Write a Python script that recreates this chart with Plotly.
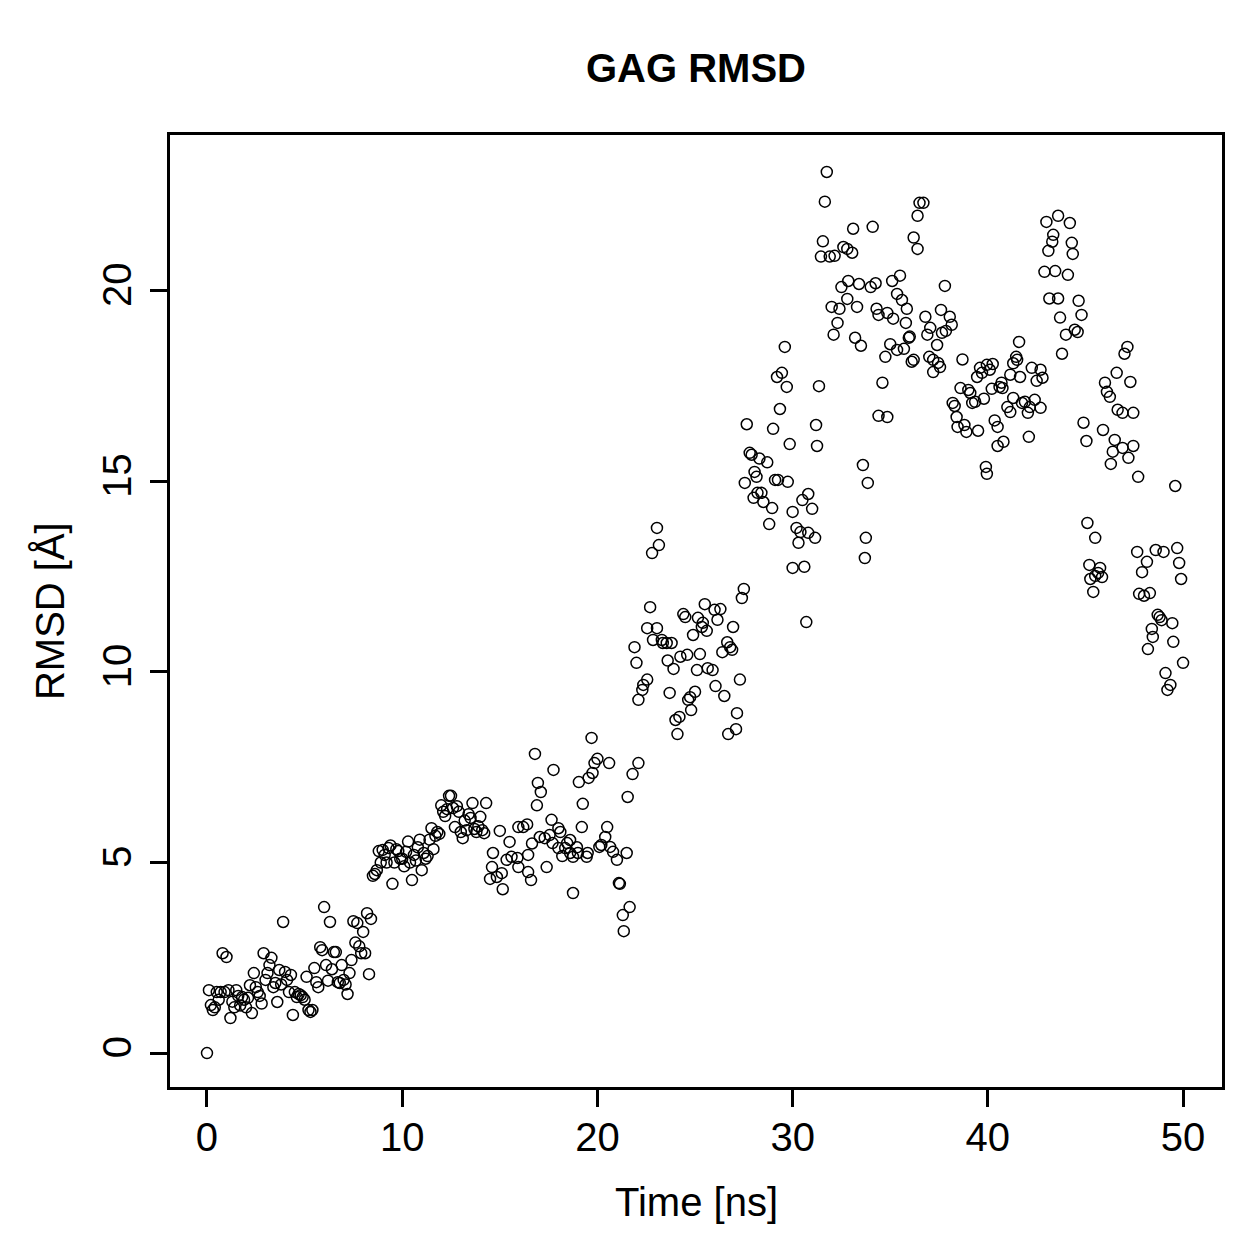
import plotly.graph_objects as go

# ---- data (time in ns, RMSD in Angstrom) ----
time_00_10 = [0.0, 0.1, 0.2, 0.3, 0.4, 0.5, 0.6, 0.7, 0.8, 0.9,
              1.0, 1.1, 1.2, 1.3, 1.4, 1.5, 1.6, 1.7, 1.8, 1.9,
              2.0, 2.1, 2.2, 2.3, 2.4, 2.5, 2.6, 2.7, 2.8, 2.9,
              3.0, 3.1, 3.2, 3.3, 3.4, 3.5, 3.6, 3.7, 3.8, 3.9,
              4.0, 4.1, 4.2, 4.3, 4.4, 4.5, 4.6, 4.7, 4.8, 4.9,
              5.0, 5.1, 5.2, 5.3, 5.4, 5.5, 5.6, 5.7, 5.8, 5.9,
              6.0, 6.1, 6.2, 6.3, 6.4, 6.5, 6.6, 6.7, 6.8, 6.9,
              7.0, 7.1, 7.2, 7.3, 7.4, 7.5, 7.6, 7.7, 7.8, 7.9,
              8.0, 8.1, 8.2, 8.3, 8.4, 8.5, 8.6, 8.7, 8.8, 8.9,
              9.0, 9.1, 9.2, 9.3, 9.4, 9.5, 9.6, 9.7, 9.8, 9.9]
rmsd_00_10 = [0.0, 1.65, 1.26, 1.13, 1.2, 1.6, 1.4, 1.6, 2.62, 1.6,
              2.52, 1.65, 0.92, 1.35, 1.2, 1.65, 1.5, 1.25, 1.47, 1.4,
              1.2, 1.45, 1.78, 1.05, 2.1, 1.73, 1.6, 1.5, 1.3, 2.62,
              1.92, 2.1, 2.31, 2.5, 1.73, 1.84, 1.34, 2.18, 1.8, 3.44,
              2.13, 1.92, 1.6, 2.05, 1.0, 1.6, 1.47, 1.55, 1.52, 1.47,
              1.4, 2.0, 1.13, 1.08, 1.13, 2.23, 1.86, 1.73, 2.78, 2.7,
              3.83, 2.31, 1.9, 3.44, 2.2, 2.65, 2.65, 1.86, 1.84, 2.31,
              1.92, 1.8, 1.55, 2.1, 2.44, 3.46, 2.9, 3.41, 2.8, 2.62,
              3.18, 2.62, 3.67, 2.07, 3.52, 4.65, 4.7, 4.8, 5.3, 5.0,
              5.33, 5.2, 5.0, 5.38, 5.45, 4.44, 5.0, 5.35, 5.3, 5.1]

time_10_20 = [10.0, 10.1, 10.2, 10.3, 10.4, 10.5, 10.6, 10.7, 10.8, 10.9,
              11.0, 11.1, 11.2, 11.3, 11.4, 11.5, 11.6, 11.7, 11.8, 11.9,
              12.0, 12.1, 12.2, 12.3, 12.4, 12.5, 12.6, 12.7, 12.8, 12.9,
              13.0, 13.1, 13.2, 13.3, 13.4, 13.5, 13.6, 13.7, 13.8, 13.9,
              14.0, 14.1, 14.2, 14.3, 14.5, 14.6, 14.65, 14.85, 15.0, 15.1,
              15.15, 15.35, 15.5, 15.6, 15.9, 15.95, 15.95, 16.2, 16.4, 16.45,
              16.45, 16.6, 16.65, 16.8, 16.9, 16.95, 17.05, 17.1, 17.3, 17.4,
              17.55, 17.65, 17.7, 17.75, 18.0, 18.0, 18.1, 18.2, 18.35, 18.45,
              18.6, 18.6, 18.75, 18.75, 18.95, 19.0, 19.05, 19.2, 19.25, 19.45,
              19.5, 19.55, 19.7, 19.75, 19.85]
rmsd_10_20 = [5.1, 4.9, 5.28, 5.55, 5.0, 4.54, 5.2, 5.05, 5.4, 5.6,
              4.8, 5.25, 5.1, 5.17, 5.6, 5.9, 5.35, 5.7, 5.8, 5.75,
              6.5, 6.33, 6.22, 6.4, 6.75, 6.75, 6.43, 5.93, 6.48, 6.33,
              5.8, 5.64, 6.1, 5.85, 6.27, 6.17, 6.56, 5.88, 5.8, 5.95,
              6.2, 5.85, 5.77, 6.56, 4.57, 4.88, 5.25, 4.62, 5.83, 4.72,
              4.3, 5.07, 5.54, 5.15, 5.12, 5.93, 4.88, 5.93, 6.0, 5.2,
              4.75, 4.54, 5.5, 7.85, 6.5, 7.09, 5.67, 6.85, 5.64, 4.88,
              5.72, 6.12, 5.51, 7.43, 5.9, 5.38, 5.8, 5.17, 5.38, 5.51,
              5.59, 5.25, 5.15, 4.2, 5.4, 5.25, 7.11, 5.93, 6.54, 5.15,
              5.25, 7.22, 8.27, 7.35, 7.61]

time_20_30 = [20.0, 20.1, 20.2, 20.4, 20.5, 20.6, 20.65, 20.8, 21.0, 21.1,
              21.15, 21.3, 21.35, 21.5, 21.55, 21.65, 21.8, 21.9, 22.0, 22.1,
              22.1, 22.3, 22.35, 22.55, 22.55, 22.7, 22.8, 22.85, 23.05, 23.05,
              23.15, 23.3, 23.35, 23.55, 23.6, 23.7, 23.8, 23.9, 24.0, 24.1,
              24.2, 24.25, 24.4, 24.5, 24.6, 24.65, 24.75, 24.8, 24.9, 25.0,
              25.1, 25.15, 25.25, 25.35, 25.4, 25.5, 25.6, 25.65, 25.9, 26.0,
              26.05, 26.15, 26.3, 26.4, 26.5, 26.65, 26.7, 26.8, 26.9, 26.95,
              27.1, 27.15, 27.3, 27.4, 27.5, 27.55, 27.65, 27.8, 27.9, 28.0,
              28.05, 28.15, 28.2, 28.3, 28.4, 28.5, 28.7, 28.8, 28.95, 29.0,
              29.1, 29.2, 29.25, 29.35, 29.45, 29.6, 29.7, 29.75, 29.85]
rmsd_20_30 = [7.72, 5.41, 5.46, 5.67, 5.93, 7.61, 5.41, 5.28, 5.07, 4.46,
              4.44, 3.62, 3.2, 5.25, 6.72, 3.83, 7.32, 10.65, 10.24, 7.61,
              9.27, 9.53, 9.66, 9.8, 11.15, 11.7, 13.12, 10.84, 13.78, 11.15,
              13.33, 10.84, 10.76, 10.76, 10.3, 9.45, 10.76, 10.08, 8.74, 8.37,
              8.82, 10.4, 11.52, 11.44, 10.45, 9.27, 9.34, 9.0, 10.97, 9.48,
              10.05, 11.42, 10.47, 11.18, 11.29, 11.78, 11.08, 10.1, 10.05, 11.63,
              9.63, 11.37, 11.65, 10.52, 9.37, 10.78, 8.37, 10.65, 10.58, 11.18,
              8.5, 8.92, 9.8, 11.94, 12.18, 14.96, 16.5, 15.75, 15.7, 14.57,
              15.25, 15.12, 14.7, 15.6, 14.7, 14.46, 15.5, 13.88, 14.3, 16.38,
              15.04, 17.74, 15.04, 16.9, 17.85, 18.53, 17.48, 14.99, 15.98]

time_30_40 = [30.0, 30.0, 30.2, 30.3, 30.4, 30.5, 30.6, 30.7, 30.8, 30.8,
              31.0, 31.15, 31.2, 31.25, 31.35, 31.45, 31.55, 31.65, 31.75, 31.9,
              32.0, 32.1, 32.15, 32.3, 32.4, 32.5, 32.6, 32.8, 32.8, 32.85,
              33.05, 33.1, 33.2, 33.3, 33.4, 33.5, 33.6, 33.7, 33.75, 33.85,
              34.0, 34.1, 34.25, 34.3, 34.4, 34.4, 34.6, 34.75, 34.85, 34.85,
              35.0, 35.1, 35.15, 35.35, 35.35, 35.5, 35.6, 35.7, 35.8, 35.85,
              35.95, 36.0, 36.1, 36.2, 36.2, 36.4, 36.4, 36.5, 36.7, 36.8,
              36.9, 37.0, 37.05, 37.2, 37.2, 37.4, 37.45, 37.55, 37.6, 37.65,
              37.8, 37.85, 38.05, 38.15, 38.2, 38.3, 38.4, 38.45, 38.6, 38.7,
              38.8, 38.9, 39.0, 39.1, 39.2, 39.35, 39.45, 39.5, 39.6, 39.7,
              39.8, 39.9, 39.95, 39.95]
rmsd_30_40 = [14.2, 12.73, 13.78, 13.39, 13.67, 14.51, 12.76, 11.31, 14.67, 13.65,
              14.28, 13.52, 16.48, 15.93, 17.5, 20.9, 21.3, 22.34, 23.12, 20.9,
              19.58, 18.85, 20.92, 19.16, 19.53, 20.1, 21.15, 21.1, 19.79, 20.26,
              21.0, 21.63, 18.77, 19.58, 20.18, 18.56, 15.43, 12.99, 13.52, 14.96,
              20.1, 21.68, 20.2, 19.53, 19.37, 16.72, 17.59, 18.27, 19.42, 16.69,
              18.6, 20.26, 19.27, 19.92, 18.45, 20.4, 19.76, 18.48, 19.16, 19.53,
              18.77, 18.8, 18.14, 21.4, 18.19, 21.97, 21.1, 22.31, 22.31, 19.32,
              18.85, 18.27, 19.03, 18.19, 17.87, 18.58, 18.11, 18.0, 19.5, 18.9,
              20.13, 18.95, 19.32, 19.11, 17.06, 16.98, 16.69, 16.43, 17.45, 18.2,
              16.48, 16.3, 17.4, 17.32, 17.06, 17.09, 17.74, 16.33, 17.98, 17.85,
              17.17, 15.38, 15.2, 18.06]

time_40_50 = [40.1, 40.2, 40.25, 40.35, 40.5, 40.5, 40.6, 40.7, 40.75, 40.8,
              41.0, 41.15, 41.15, 41.3, 41.3, 41.45, 41.5, 41.6, 41.65, 41.75,
              41.9, 42.05, 42.1, 42.15, 42.25, 42.4, 42.5, 42.7, 42.7, 42.8,
              42.9, 43.0, 43.1, 43.15, 43.3, 43.35, 43.45, 43.6, 43.6, 43.7,
              43.8, 44.0, 44.1, 44.2, 44.3, 44.35, 44.45, 44.6, 44.65, 44.8,
              44.9, 45.05, 45.1, 45.2, 45.25, 45.4, 45.5, 45.5, 45.65, 45.75,
              45.85, 45.9, 46.0, 46.1, 46.25, 46.3, 46.4, 46.5, 46.6, 46.65,
              46.9, 46.9, 47.0, 47.15, 47.2, 47.3, 47.45, 47.45, 47.65, 47.7,
              47.75, 47.9, 48.0, 48.15, 48.2, 48.3, 48.4, 48.45, 48.6, 48.7,
              48.8, 48.9, 49.0, 49.1, 49.2, 49.35, 49.45, 49.5, 49.6, 49.7,
              49.8, 49.9, 50.0]
rmsd_40_50 = [17.93, 17.43, 18.08, 16.6, 16.43, 15.93, 17.48, 17.59, 17.45, 16.04,
              16.95, 17.8, 16.82, 18.1, 17.19, 18.27, 18.19, 18.66, 17.74, 17.06,
              17.09, 16.8, 16.17, 16.95, 17.98, 17.14, 17.64, 17.93, 16.93, 17.72,
              20.5, 21.81, 21.05, 19.8, 21.29, 21.47, 20.52, 21.97, 19.8, 19.3,
              18.35, 18.85, 20.42, 21.78, 21.26, 20.97, 18.98, 18.92, 19.74, 19.37,
              16.54, 16.06, 13.91, 12.81, 12.44, 12.1, 13.52, 12.52, 12.6, 12.73,
              12.49, 16.35, 17.59, 17.35, 17.22, 15.46, 15.78, 16.09, 17.85, 16.88,
              15.88, 16.8, 18.35, 18.53, 15.62, 17.61, 16.8, 15.93, 13.15, 15.12,
              12.05, 12.62, 12.0, 12.89, 10.6, 12.07, 11.13, 10.92, 13.2, 11.5,
              11.44, 11.36, 13.15, 9.97, 9.53, 9.66, 11.28, 10.79, 14.88, 13.25,
              12.86, 12.44, 10.24]

x_ticks = [0, 10, 20, 30, 40, 50]
y_ticks = [0, 5, 10, 15, 20]
title_text = "GAG RMSD"
x_label = "Time [ns]"
y_label = "RMSD [Å]"

time_ns = time_00_10 + time_10_20 + time_20_30 + time_30_40 + time_40_50
rmsd = rmsd_00_10 + rmsd_10_20 + rmsd_20_30 + rmsd_30_40 + rmsd_40_50

FONT = "Liberation Sans, Arial, Helvetica, sans-serif"

fig = go.Figure()
fig.add_trace(go.Scatter(
    x=time_ns, y=rmsd, mode="markers",
    marker=dict(symbol="circle-open", size=11, color="black",
                line=dict(width=1.5, color="black")),
    showlegend=False, hoverinfo="x+y",
))

axis_common = dict(
    showgrid=False, zeroline=False, showline=True, mirror=True,
    linecolor="black", linewidth=2.5, ticks="outside", ticklen=17,
    tickwidth=2.5, tickcolor="black",
    tickfont=dict(family=FONT, size=40, color="black"),
)

fig.update_layout(
    width=1259, height=1259,
    margin=dict(l=170, r=37, t=135, b=172),
    paper_bgcolor="white", plot_bgcolor="white",
    xaxis=dict(range=[-1.895, 51.995], tickvals=x_ticks,
               ticktext=[str(v) for v in x_ticks], ticklabelstandoff=-4,
               **axis_common),
    yaxis=dict(range=[-0.89, 24.09], tickvals=y_ticks,
               ticktext=[str(v) for v in y_ticks], tickangle=-90,
               ticklabelstandoff=3, **axis_common),
    annotations=[
        dict(text="<b>" + title_text + "</b>", x=0.5, y=1.0704,
             xref="paper", yref="paper", xanchor="center", yanchor="middle",
             showarrow=False, font=dict(family=FONT, size=40, color="black")),
        dict(text=x_label, x=0.5, y=-0.1208, xref="paper", yref="paper",
             xanchor="center", yanchor="middle", showarrow=False,
             font=dict(family=FONT, size=40, color="black")),
        dict(text=y_label, x=-0.114, y=0.5, xref="paper", yref="paper",
             xanchor="center", yanchor="middle", textangle=-90, showarrow=False,
             font=dict(family=FONT, size=40, color="black")),
    ],
)

fig.write_html("out.html")
